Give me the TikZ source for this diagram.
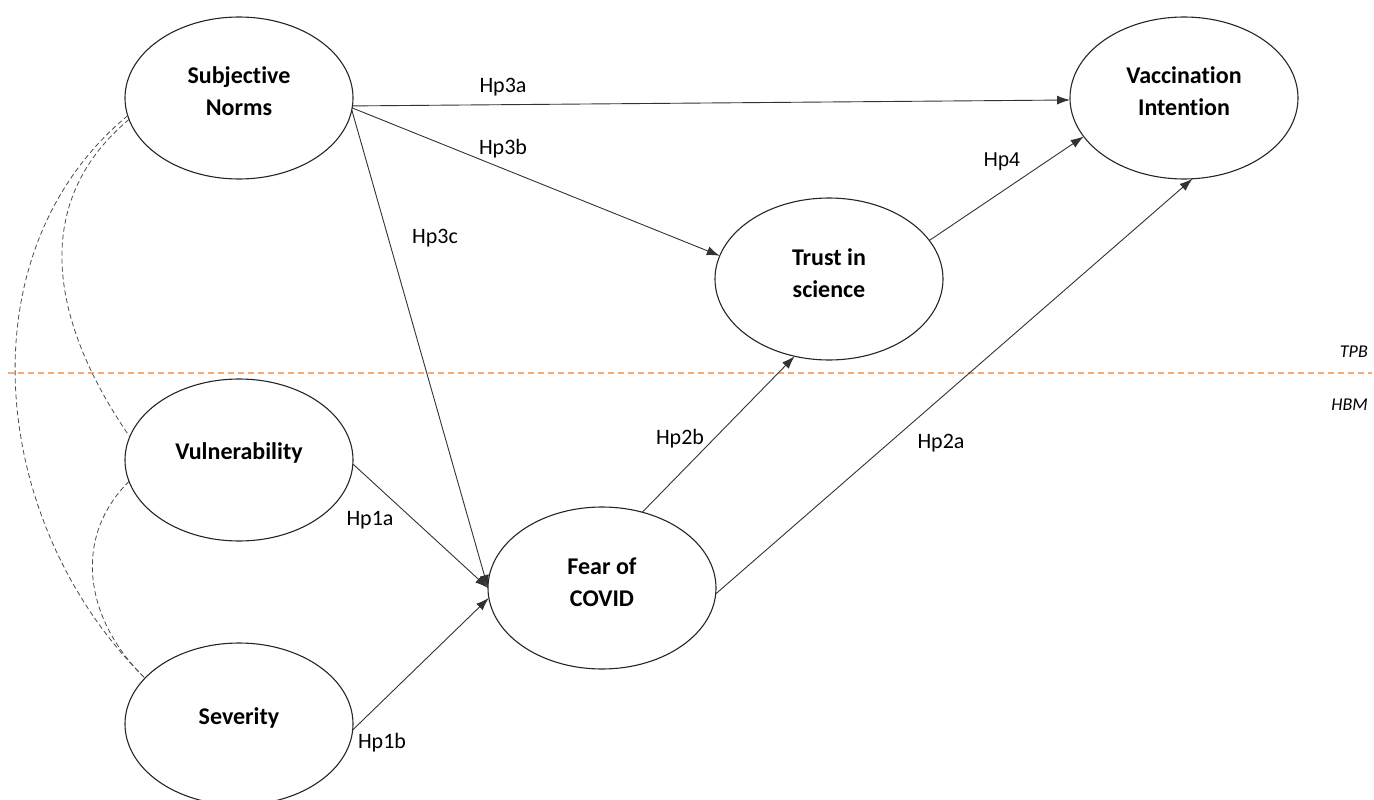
\documentclass[tikz,border=0pt]{standalone}
\usepackage{fontspec}
\setmainfont{Carlito}[Ligatures=NoCommon]
\newfontfamily\arialfont{Liberation Sans}
\usetikzlibrary{shapes.geometric,arrows.meta}

\definecolor{divider}{RGB}{244,170,120}
\definecolor{pathgray}{RGB}{50,50,50}

\tikzset{
  latent/.style={ellipse, draw=black!85, line width=1.1pt, fill=white,
    minimum width=228pt, minimum height=162pt, inner sep=0pt, outer sep=0pt},
  ltext/.style={font=\bfseries\fontsize{24}{32}\selectfont, align=center, inner sep=0pt},
  hyp/.style={-{Latex[length=13pt,width=9pt]}, draw=pathgray, line width=0.9pt},
  hlabel/.style={font=\fontsize{22}{26}\selectfont, inner sep=0pt},
  corr/.style={dashed, draw=black!70, line width=0.8pt, dash pattern=on 5pt off 3pt},
  zone/.style={font=\itshape\fontsize{18}{22}\selectfont, inner sep=0pt, anchor=east}
}

\begin{document}
\begin{tikzpicture}[x=1pt,y=-1pt]
\useasboundingbox (0,0) rectangle (1374,800);

% theory divider
\coordinate (dl) at (8,373);
\coordinate (dr) at (1372,373);
\draw[divider, line width=1.2pt, dash pattern=on 6pt off 4pt] (dl) -- (dr);
\node[zone] (tpb) at (1368,352) {TPB};
\node[zone] (hbm) at (1368,405) {HBM};

% constructs
\node[latent] (sn)  at (239,98)  {};
\node[latent] (vi)  at (1184,98) {};
\node[latent] (ts)  at (829,279) {};
\node[latent] (vul) at (239,460) {};
\node[latent] (fc)  at (602,588) {};
\node[latent] (sev) at (239,724) {};

\node[ltext] (sn-t)  at (239,91)  {Subjective\\Norms};
\node[ltext] (vi-t)  at (1184,91) {Vaccination\\Intention};
\node[ltext] (ts-t)  at (829,273) {Trust in\\science};
\node[ltext] (vul-t) at (239,453) {Vulnerability};
\node[ltext] (fc-t)  at (602,582) {Fear of\\COVID};
\node[ltext] (sev-t) at (239,718) {Severity};

% correlations among exogenous constructs
\draw[corr] (sn.189) .. controls (-39,254) and (-10,525) .. (sev.154);
\draw[corr] (sn.191) .. controls (26,206) and (54,327) .. (vul.168);
\draw[corr] (vul.191) .. controls (71,539) and (86,621) .. (sev.154);

% hypothesised paths
\draw[hyp] (sn.-4) -- (vi.181);
\draw[hyp] (sn.-5) -- (ts.168);
\draw[hyp] (sn.-6) -- (fc.180);
\draw[hyp] (ts.21) -- (vi.201);
\draw[hyp] (fc.62) -- (ts.246);
\draw[hyp] (fc.-3.5) -- (vi.276);
\draw[hyp] (vul.-2.5) -- (fc.180);
\draw[hyp] (sev.-3) -- (fc.185);

% path labels
\node[hlabel] (l3a) at (503,87)  {Hp3a};
\node[hlabel] (l3b) at (503,149) {Hp3b};
\node[hlabel] (l3c) at (435,238) {Hp3c};
\node[hlabel, font=\arialfont\fontsize{20}{24}\selectfont] (l4) at (1002,162) {Hp4};
\node[hlabel] (l2b) at (680,439) {Hp2b};
\node[hlabel] (l2a) at (941,443) {Hp2a};
\node[hlabel] (l1a) at (370,520) {Hp1a};
\node[hlabel] (l1b) at (382,743) {Hp1b};
\end{tikzpicture}
\end{document}
